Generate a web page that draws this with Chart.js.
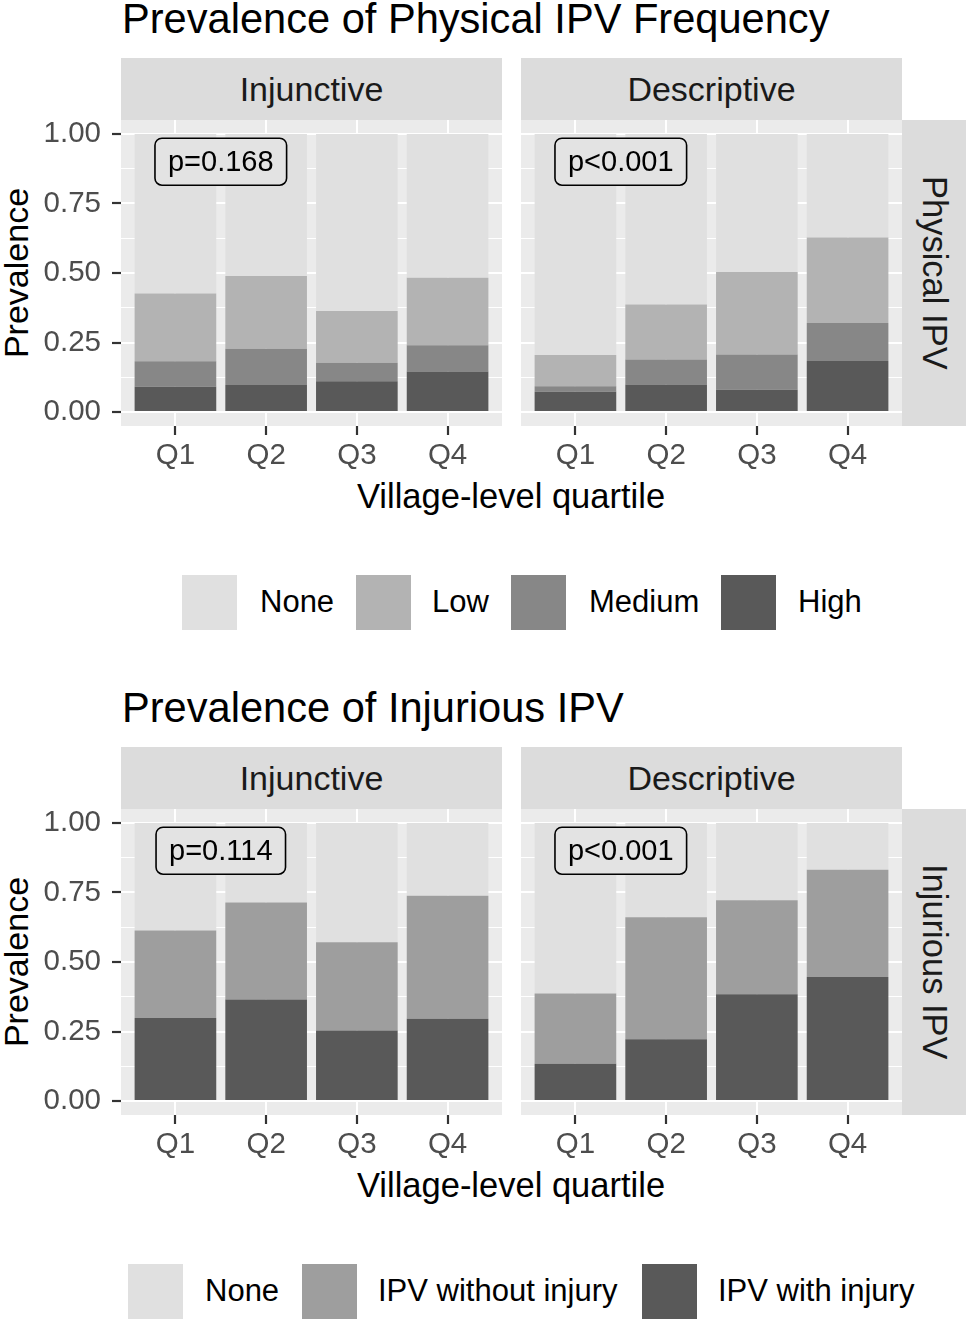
<!DOCTYPE html>
<html>
<head>
<meta charset="utf-8">
<script src="https://cdn.jsdelivr.net/npm/chart.js@4.4.1/dist/chart.umd.min.js"></script>
<style>
  html, body { margin:0; padding:0; background:#ffffff; }
  body { width:966px; height:1320px; position:relative; overflow:hidden;
         font-family:"Liberation Sans", Arial, sans-serif; }
  .abs { position:absolute; }
  .title { font-size:41.6px; line-height:40px; color:#000; white-space:nowrap; }
  .strip { background:#DCDCDC; display:flex; align-items:center; justify-content:center;
           font-size:34px; color:#1A1A1A; white-space:nowrap; }
  .rstrip { background:#DCDCDC; display:flex; align-items:center; justify-content:center;
            font-size:34.5px; color:#1A1A1A; white-space:nowrap; }
  .rstrip span { writing-mode:vertical-rl; }
  .ytitle { font-size:34px; color:#000; white-space:nowrap; transform-origin:center center; }
  .xtitle { font-size:34.5px; color:#000; white-space:nowrap; text-align:center; line-height:34px; }
  .key { width:55px; height:55px; }
  .ltext { font-size:31px; line-height:34px; color:#000; white-space:nowrap; }
  canvas { position:absolute; }
</style>
</head>
<body>

<div class="abs title" style="left:122px; top:-1px;">Prevalence of Physical IPV Frequency</div>
<div class="abs title" style="left:122px; top:688px;">Prevalence of Injurious IPV</div>

<div class="abs strip" style="left:121px; top:58px; width:381px; height:62px;">Injunctive</div>
<div class="abs strip" style="left:521px; top:58px; width:381px; height:62px;">Descriptive</div>
<div class="abs rstrip" style="left:902px; top:120px; width:64px; height:306px;"><span>Physical IPV</span></div>

<div class="abs strip" style="left:121px; top:747px; width:381px; height:62px;">Injunctive</div>
<div class="abs strip" style="left:521px; top:747px; width:381px; height:62px;">Descriptive</div>
<div class="abs rstrip" style="left:902px; top:809px; width:64px; height:306px;"><span>Injurious IPV</span></div>

<div class="abs ytitle" style="left:-74px; top:253px; width:180px; height:40px; line-height:40px; text-align:center; transform:rotate(-90deg);">Prevalence</div>
<div class="abs ytitle" style="left:-74px; top:942px; width:180px; height:40px; line-height:40px; text-align:center; transform:rotate(-90deg);">Prevalence</div>

<div class="abs xtitle" style="left:311px; top:479px; width:400px;">Village-level quartile</div>
<div class="abs xtitle" style="left:311px; top:1168px; width:400px;">Village-level quartile</div>

<canvas id="c1" width="502" height="380" style="left:0px; top:100px;"></canvas>
<canvas id="c2" width="381" height="380" style="left:521px; top:100px;"></canvas>
<canvas id="c3" width="502" height="380" style="left:0px; top:789px;"></canvas>
<canvas id="c4" width="381" height="380" style="left:521px; top:789px;"></canvas>

<div id="legend1"></div>
<div id="legend2"></div>

<script>
// ---------------- DATA ----------------
const QUARTILES = ['Q1', 'Q2', 'Q3', 'Q4'];
const FACETS = ['Injunctive', 'Descriptive'];
const Y_TICKS = [0, 0.25, 0.5, 0.75, 1];
const Y_MINOR = [0.125, 0.375, 0.625, 0.875];

// Physical IPV frequency (segment heights, stacked from bottom: High, Medium, Low, None)
const PHYS_LEVELS = ['None', 'Low', 'Medium', 'High'];
const physInjHigh   = [0.091, 0.097, 0.111, 0.146];
const physInjMedium = [0.092, 0.131, 0.066, 0.094];
const physInjLow    = [0.243, 0.261, 0.186, 0.243];
const physInjNone   = [0.574, 0.511, 0.637, 0.517];

const physDesHigh   = [0.073, 0.099, 0.080, 0.184];
const physDesMedium = [0.020, 0.090, 0.127, 0.136];
const physDesLow    = [0.112, 0.198, 0.297, 0.308];
const physDesNone   = [0.795, 0.613, 0.496, 0.372];

// Injurious IPV (stacked from bottom: with injury, without injury, None)
const INJ_LEVELS = ['None', 'IPV without injury', 'IPV with injury'];
const injInjWith    = [0.299, 0.365, 0.254, 0.296];
const injInjWithout = [0.314, 0.349, 0.317, 0.442];
const injInjNone    = [0.387, 0.286, 0.429, 0.262];

const injDesWith    = [0.134, 0.222, 0.384, 0.446];
const injDesWithout = [0.253, 0.439, 0.338, 0.386];
const injDesNone    = [0.613, 0.339, 0.278, 0.168];

const P_PHYS = ['p=0.168', 'p<0.001'];
const P_INJ  = ['p=0.114', 'p<0.001'];

// ---------------- STYLE ----------------
const COL_PHYS = { 'None':'#E0E0E0', 'Low':'#B3B3B3', 'Medium':'#878787', 'High':'#595959' };
const COL_INJ  = { 'None':'#E0E0E0', 'IPV without injury':'#9E9E9E', 'IPV with injury':'#595959' };
const PANEL_BG = '#EBEBEB';

Chart.defaults.font.family = '"Liberation Sans", Arial, sans-serif';

const panelBg = {
  id: 'panelBg',
  beforeDraw(chart) {
    const a = chart.chartArea, ctx = chart.ctx;
    ctx.save();
    ctx.fillStyle = PANEL_BG;
    ctx.fillRect(a.left, a.top, a.right - a.left, a.bottom - a.top);
    ctx.restore();
  }
};

const pLabel = {
  id: 'pLabel',
  afterDatasetsDraw(chart, args, opts) {
    if (!opts.text) return;
    const ctx = chart.ctx;
    const cx = chart.scales.x.getPixelForValue(opts.x);
    const cy = chart.scales.y.getPixelForValue(opts.y);
    ctx.save();
    ctx.font = '29px "Liberation Sans", Arial, sans-serif';
    const w = ctx.measureText(opts.text).width + 26;
    const h = 47;
    ctx.beginPath();
    ctx.roundRect(cx - w / 2, cy - h / 2, w, h, 7);
    ctx.fillStyle = '#E3E3E3';
    ctx.fill();
    ctx.lineWidth = 1.6;
    ctx.strokeStyle = '#000';
    ctx.stroke();
    ctx.fillStyle = '#000';
    ctx.textAlign = 'center';
    ctx.textBaseline = 'middle';
    ctx.fillText(opts.text, cx, cy + 1);
    ctx.restore();
  }
};

function toPoints(arr) { return arr.map((v, i) => ({ x: i, y: v })); }

function makeChart(id, series, colors, showY, ptext) {
  const datasets = series.map(s => ({
    label: s.name,
    data: toPoints(s.values),
    backgroundColor: colors[s.name],
    borderWidth: 0,
    categoryPercentage: 1.0,
    barPercentage: 0.9
  }));
  const isMajor = v => Y_TICKS.some(t => Math.abs(t - v) < 1e-9);
  return new Chart(document.getElementById(id), {
    type: 'bar',
    data: { datasets },
    plugins: [panelBg, pLabel],
    options: {
      responsive: false,
      animation: false,
      events: [],
      layout: { padding: { top: 20, left: 0, right: 0, bottom: 0 } },
      plugins: {
        legend: { display: false },
        tooltip: { enabled: false },
        pLabel: { text: ptext, x: 0.5, y: 0.9 }
      },
      scales: {
        x: {
          type: 'linear',
          stacked: true,
          offset: false,
          min: -0.6, max: 3.6,
          afterBuildTicks: s => { s.ticks = QUARTILES.map((q, i) => ({ value: i })); },
          afterFit: s => { s.height = 54; s.paddingLeft = 0; s.paddingRight = 0; },
          border: { display: false },
          grid: { offset: false, color: '#FFFFFF', lineWidth: 2, tickColor: '#333333', tickLength: 9, tickWidth: 2.2 },
          ticks: { autoSkip: false, maxRotation: 0, padding: 3, color: '#4D4D4D',
                   font: { size: 29.5 }, callback: v => QUARTILES[v] }
        },
        y: {
          type: 'linear',
          stacked: true,
          min: -0.05, max: 1.05,
          afterBuildTicks: s => {
            s.ticks = [...Y_TICKS, ...Y_MINOR].sort((a, b) => a - b).map(v => ({ value: v }));
          },
          afterFit: s => { s.width = showY ? 121 : 0; s.paddingTop = 0; s.paddingBottom = 0; },
          border: { display: false },
          grid: {
            color: '#FFFFFF',
            lineWidth: c => (c.tick && isMajor(c.tick.value)) ? 2 : 1,
            drawTicks: showY,
            tickLength: 9,
            tickWidth: 2.2,
            tickColor: c => (c.tick && isMajor(c.tick.value)) ? '#333333' : 'rgba(0,0,0,0)'
          },
          ticks: { display: showY, autoSkip: false, padding: 11, color: '#4D4D4D',
                   font: { size: 29.5 },
                   callback: v => isMajor(v) ? v.toFixed(2) : '' }
        }
      }
    }
  });
}

makeChart('c1', [
  { name: 'High', values: physInjHigh }, { name: 'Medium', values: physInjMedium },
  { name: 'Low', values: physInjLow }, { name: 'None', values: physInjNone }
], COL_PHYS, true, P_PHYS[0]);
makeChart('c2', [
  { name: 'High', values: physDesHigh }, { name: 'Medium', values: physDesMedium },
  { name: 'Low', values: physDesLow }, { name: 'None', values: physDesNone }
], COL_PHYS, false, P_PHYS[1]);
makeChart('c3', [
  { name: 'IPV with injury', values: injInjWith }, { name: 'IPV without injury', values: injInjWithout },
  { name: 'None', values: injInjNone }
], COL_INJ, true, P_INJ[0]);
makeChart('c4', [
  { name: 'IPV with injury', values: injDesWith }, { name: 'IPV without injury', values: injDesWithout },
  { name: 'None', values: injDesNone }
], COL_INJ, false, P_INJ[1]);

// ---------------- LEGENDS (HTML) ----------------
function buildLegend(hostId, levels, colors, keyX, textX, top) {
  const host = document.getElementById(hostId);
  levels.forEach((lv, i) => {
    const k = document.createElement('div');
    k.className = 'abs key';
    k.style.left = keyX[i] + 'px';
    k.style.top = top + 'px';
    k.style.background = colors[lv];
    host.appendChild(k);
    const t = document.createElement('div');
    t.className = 'abs ltext';
    t.style.left = textX[i] + 'px';
    t.style.top = (top + 10) + 'px';
    t.textContent = lv;
    host.appendChild(t);
  });
}
buildLegend('legend1', PHYS_LEVELS, COL_PHYS, [182, 356, 511, 721], [260, 432, 589, 798], 575);
buildLegend('legend2', INJ_LEVELS, COL_INJ, [128, 302, 642], [205, 378, 718], 1264);
</script>
</body>
</html>
